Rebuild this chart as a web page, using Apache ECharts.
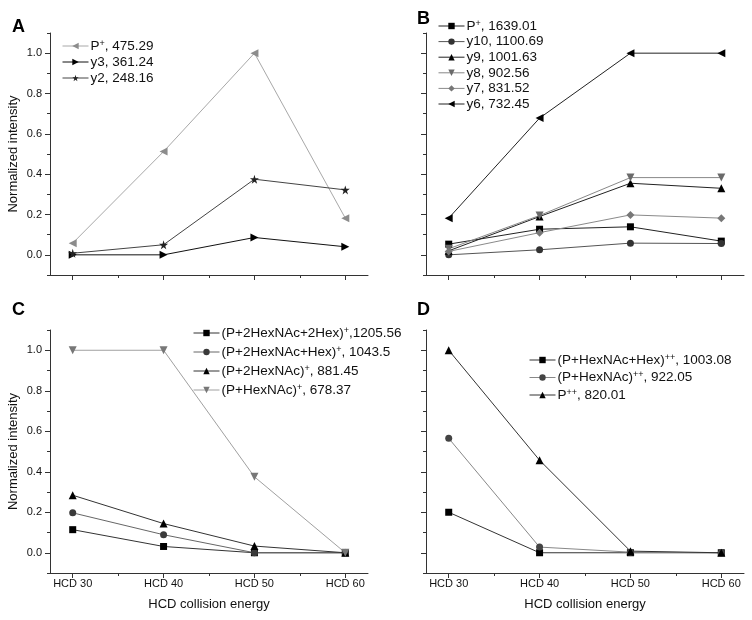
<!DOCTYPE html>
<html><head><meta charset="utf-8">
<script src="https://cdn.jsdelivr.net/npm/echarts@6/dist/echarts.min.js"></script>
<style>html,body{margin:0;padding:0;background:#fff}#c{width:752px;height:620px}</style>
</head><body><div id="c"></div>
<script>
// ---- data ----
const energies = [30, 40, 50, 60];
const xMajorTicks = [30, 40, 50, 60];
const xMinorTicks = [35, 45, 55];
const yLabelTicks = [0, 0.2, 0.4, 0.6, 0.8, 1.0];
const yMinorTicks = [-0.1, 0.1, 0.3, 0.5, 0.7, 0.9, 1.1];
const panelLetters = ['A', 'B', 'C', 'D'];
const xAxisTitle = 'HCD collision energy';
const yAxisTitle = 'Normalized intensity';

// Panel A
const aNames = ['P⁺, 475.29', 'y3, 361.24', 'y2, 248.16'];
const aP475 = [0.058, 0.512, 1.0, 0.182];
const aY3 = [0.0, 0.0, 0.086, 0.040];
const aY2 = [0.008, 0.05, 0.375, 0.322];
// Panel B
const bNames = ['P⁺, 1639.01', 'y10, 1100.69', 'y9, 1001.63', 'y8, 902.56', 'y7, 831.52', 'y6, 732.45'];
const bP1639 = [0.053, 0.127, 0.139, 0.068];
const bY10 = [0.0, 0.025, 0.058, 0.056];
const bY9 = [0.02, 0.19, 0.355, 0.33];
const bY8 = [0.03, 0.195, 0.383, 0.383];
const bY7 = [0.017, 0.11, 0.198, 0.182];
const bY6 = [0.182, 0.678, 1.0, 1.0];
// Panel C
const cNames = ['(P+2HexNAc+2Hex)⁺,1205.56', '(P+2HexNAc+Hex)⁺, 1043.5', '(P+2HexNAc)⁺, 881.45', '(P+HexNAc)⁺, 678.37'];
const c1205 = [0.114, 0.031, 0.0, 0.0];
const c1043 = [0.197, 0.089, 0.0, 0.0];
const c881 = [0.284, 0.144, 0.033, 0.0];
const c678 = [1.0, 1.0, 0.375, 0.0];
// Panel D
const dNames = ['(P+HexNAc+Hex)⁺⁺, 1003.08', '(P+HexNAc)⁺⁺, 922.05', 'P⁺⁺, 820.01'];
const d1003 = [0.2, 0.0, 0.0, 0.0];
const d922 = [0.565, 0.028, 0.003, 0.0];
const d820 = [1.0, 0.457, 0.008, 0.0];

// ---- styles ----
const FONT = 'Liberation Sans, Arial, sans-serif';
const STAR = 'path://M50,0 L61,35 L98,35 L68,57 L79,91 L50,70 L21,91 L32,57 L2,35 L39,35 Z';
const grids = [
  {left: 50, top: 33, width: 318, height: 242},
  {left: 426, top: 33, width: 318, height: 242},
  {left: 50, top: 330, width: 318, height: 243},
  {left: 426, top: 330, width: 318, height: 243}
];
const sym = {
  left: {symbol: 'triangle', symbolRotate: 90, symbolSize: 8},
  right: {symbol: 'triangle', symbolRotate: -90, symbolSize: 8},
  up: {symbol: 'triangle', symbolRotate: 0, symbolSize: 8},
  down: {symbol: 'triangle', symbolRotate: 180, symbolSize: 8},
  star: {symbol: STAR, symbolRotate: 0, symbolSize: 9},
  square: {symbol: 'rect', symbolRotate: 0, symbolSize: 7},
  circle: {symbol: 'circle', symbolRotate: 0, symbolSize: 7},
  diamond: {symbol: 'diamond', symbolRotate: 0, symbolSize: 8}
};
const panels = [
  {names: aNames, values: [aP475, aY3, aY2],
   styles: [['left', '#a8a8a8', '#8c8c8c'], ['right', '#111', '#000'], ['star', '#444', '#222']]},
  {names: bNames, values: [bP1639, bY10, bY9, bY8, bY7, bY6],
   styles: [['square', '#222', '#000'], ['circle', '#555', '#333'], ['up', '#222', '#000'],
            ['down', '#888', '#6a6a6a'], ['diamond', '#8a8a8a', '#777'], ['left', '#222', '#000']]},
  {names: cNames, values: [c1205, c1043, c881, c678],
   styles: [['square', '#333', '#000'], ['circle', '#666', '#3a3a3a'], ['up', '#333', '#000'], ['down', '#a0a0a0', '#777']]},
  {names: dNames, values: [d1003, d922, d820],
   styles: [['square', '#333', '#000'], ['circle', '#888', '#444'], ['up', '#333', '#000']]}
];
const legendPos = [
  {left: 62, top: 39, itemGap: 2},
  {left: 438, top: 19, itemGap: 1.6},
  {left: 193, top: 326, itemGap: 5},
  {left: 529, top: 353, itemGap: 3.5}
];

const series = [];
panels.forEach((p, g) => {
  p.names.forEach((name, k) => {
    const st = p.styles[k];
    const s = sym[st[0]];
    series.push({
      type: 'line', name: name, xAxisIndex: g, yAxisIndex: g,
      data: energies.map((e, i) => [e, p.values[k][i]]),
      symbol: s.symbol, symbolRotate: s.symbolRotate, symbolSize: s.symbolSize,
      showSymbol: true, animation: false,
      lineStyle: {color: st[1], width: 1},
      itemStyle: {color: st[2]},
      emphasis: {disabled: true}
    });
  });
});

const axisColor = '#333';
const xAxes = [], yAxes = [];
grids.forEach((gr, g) => {
  const bottomRow = g >= 2, leftCol = g % 2 === 0;
  xAxes.push({
    type: 'value', gridIndex: g, min: 27.5, max: 62.5, position: 'bottom',
    axisLine: {onZero: false, lineStyle: {color: axisColor, width: 1}},
    axisTick: {show: true, customValues: xMajorTicks, length: 5, lineStyle: {color: axisColor}},
    axisLabel: {show: bottomRow, customValues: xMajorTicks, formatter: v => 'HCD ' + v,
                margin: 5, fontSize: 11, color: '#111', fontFamily: FONT},
    splitLine: {show: false},
    name: bottomRow ? xAxisTitle : '', nameLocation: 'middle', nameGap: 25,
    nameTextStyle: {fontSize: 13, color: '#111', fontFamily: FONT}
  });
  yAxes.push({
    type: 'value', gridIndex: g, min: -0.1, max: 1.1, position: 'left',
    axisLine: {show: true, onZero: false, lineStyle: {color: axisColor, width: 1}},
    axisTick: {show: true, customValues: yLabelTicks, length: 5, lineStyle: {color: axisColor}},
    axisLabel: {show: leftCol, customValues: yLabelTicks, formatter: v => v.toFixed(1),
                margin: 8, fontSize: 11, color: '#111', fontFamily: FONT},
    splitLine: {show: false},
    name: leftCol ? yAxisTitle : '', nameLocation: 'middle', nameGap: 30, nameRotate: 90,
    nameTextStyle: {fontSize: 13, color: '#111', fontFamily: FONT}
  });
});
grids.forEach((gr, g) => {
  xAxes.push({
    type: 'value', gridIndex: g, min: 27.5, max: 62.5, position: 'bottom',
    axisLine: {show: false, onZero: false},
    axisTick: {show: true, customValues: xMinorTicks, length: 3, lineStyle: {color: axisColor}},
    axisLabel: {show: false}, splitLine: {show: false}
  });
  yAxes.push({
    type: 'value', gridIndex: g, min: -0.1, max: 1.1, position: 'left',
    axisLine: {show: false, onZero: false},
    axisTick: {show: true, customValues: yMinorTicks, length: 3, lineStyle: {color: axisColor}},
    axisLabel: {show: false}, splitLine: {show: false}
  });
});

const supFmt = name => name.replace(/⁺+/g, m => '{s|' + '+'.repeat(m.length) + '}');
const legends = panels.map((p, g) => ({
  orient: 'vertical', left: legendPos[g].left, top: legendPos[g].top,
  itemGap: legendPos[g].itemGap, padding: 0, itemWidth: 26, itemHeight: 8,
  selectedMode: false, data: p.names, formatter: supFmt,
  lineStyle: {width: 1},
  textStyle: {fontSize: 13.5, color: '#111', fontFamily: FONT, padding: [0, 0, 0, -3],
              rich: {s: {fontSize: 9, verticalAlign: 'top', color: '#111', fontFamily: FONT}}}
}));

const titlePos = [{left: 12, top: 18}, {left: 417, top: 10}, {left: 12, top: 301}, {left: 417, top: 301}];
const titles = panelLetters.map((t, i) => ({
  text: t, left: titlePos[i].left, top: titlePos[i].top, padding: 0,
  textStyle: {fontSize: 18, fontWeight: 'bold', color: '#000', fontFamily: FONT}
}));

const chart = echarts.init(document.getElementById('c'), null, {renderer: 'canvas'});
chart.setOption({
  animation: false, backgroundColor: '#fff',
  title: titles, grid: grids, xAxis: xAxes, yAxis: yAxes, legend: legends, series: series
});
</script></body></html>
